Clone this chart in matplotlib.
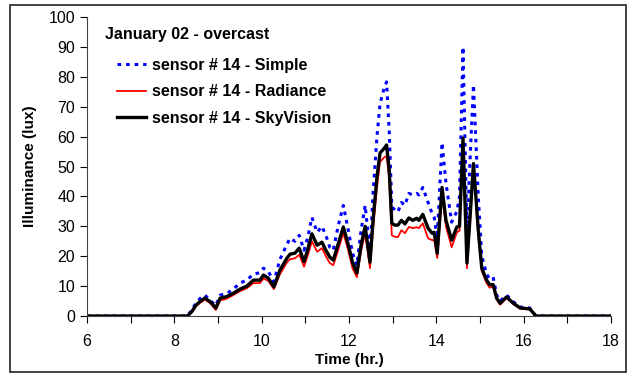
import numpy as np
import matplotlib.pyplot as plt
from matplotlib.patches import Rectangle

plt.rcParams['font.family'] = ['Liberation Sans', 'DejaVu Sans']

# hours of the day
time_hr = [6.0, 8.3, 8.4, 8.5, 8.6, 8.7, 8.82, 8.95, 9.05, 9.2, 9.35, 9.5, 9.66, 9.81,
           9.96, 10.04, 10.15, 10.28, 10.42, 10.58, 10.65, 10.76, 10.86, 10.97, 11.05,
           11.15, 11.27, 11.38, 11.47, 11.56, 11.64, 11.75, 11.87, 11.98, 12.08, 12.18,
           12.28, 12.37, 12.48, 12.55, 12.64, 12.71, 12.8, 12.86, 12.92, 12.98, 13.05,
           13.12, 13.2, 13.28, 13.37, 13.46, 13.55, 13.6, 13.69, 13.81, 13.9, 13.95,
           14.02, 14.13, 14.22, 14.35, 14.47, 14.53, 14.61, 14.7, 14.78, 14.85, 14.96,
           15.04, 15.15, 15.22, 15.3, 15.38, 15.46, 15.61, 15.76, 15.92, 16.14, 16.28, 18.0]

skyvision = [0, 0, 1.5, 3.7, 5, 6, 4.8, 2.7, 6, 6.5, 7.6, 9, 10, 12,
             12, 13.7, 12.7, 9.8, 15.4, 19.4, 20.7, 21, 22.7, 18.2, 22,
             27.5, 23.7, 24.7, 22, 19.7, 18.7, 24, 29.8, 24, 18, 14.4,
             24, 30, 18, 32, 46.5, 54.5, 56, 57.2, 49, 31, 30.4,
             30.4, 32, 30.8, 32.8, 32, 32.7, 32, 34, 29.4, 27.7, 28,
             21, 43, 32, 25.4, 29.8, 30, 59.5, 17.7, 35, 51, 28.7,
             16, 12, 10.5, 10.5, 6, 4.3, 6.4, 4.3, 2.7, 2.4, 0, 0]

simple = [0, 0, 2, 4.5, 6, 7, 5.2, 3.5, 7, 7.5, 9, 11, 12, 14,
          14.5, 16, 15, 11.5, 19, 24, 26, 25, 27, 22, 26,
          33, 28, 30, 27, 23, 22, 30, 37, 29, 21, 17,
          29, 37, 21, 41, 60, 71, 76, 78.3, 62, 36.5, 35.5,
          34.8, 38, 37, 41, 40.5, 41, 40.5, 43, 38, 34.4, 33,
          26, 58, 44.5, 31.4, 35, 40, 90, 28, 55, 77.3, 40,
          20, 14, 12.5, 13, 7, 5, 7, 4.8, 3, 2.7, 0, 0]

radiance = [0, 0, 1.2, 3.3, 4.5, 5.5, 4.3, 2, 5.2, 5.8, 7, 8.3, 9.3, 11,
            11, 12.5, 11.8, 9, 14, 18, 19, 19.3, 20.5, 16.5, 20,
            25, 21.5, 22.7, 20, 17.7, 17, 22, 27.8, 22, 16, 13,
            22, 27.8, 16, 29, 43, 51.5, 53, 53.5, 46, 27, 26.5,
            26.4, 28.7, 27.7, 29.8, 29.4, 29.7, 29.4, 31, 26, 25.4, 25.4,
            19.4, 40.5, 30, 23, 28, 28.5, 58, 16, 33, 50, 27,
            15, 11, 9.5, 9.8, 5.5, 3.8, 6, 4, 2.4, 2.2, 0, 0]

fig = plt.figure(figsize=(6.28, 3.74), dpi=100)
ax = fig.add_axes([0.1385, 0.155, 0.8345, 0.7995])

ax.plot(time_hr, simple, color='#0000ff', linestyle=(0, (1.2, 1.6)), linewidth=2.2,
        label='sensor # 14 - Simple')
ax.plot(time_hr, radiance, color='#ff0000', linewidth=1.3, label='sensor # 14 - Radiance')
ax.plot(time_hr, skyvision, color='black', linewidth=2.4, label='sensor # 14 - SkyVision')

ax.set_xlim(6, 18)
ax.set_ylim(0, 100)
ax.set_xticks(np.arange(6, 19, 2))
ax.set_xticks(np.arange(6, 19, 1), minor=True)
ax.set_yticks(np.arange(0, 101, 10))
ax.tick_params(axis='both', which='both', direction='out', length=5, width=0.8,
               labelsize=11.5, colors='black')
ax.tick_params(axis='x', pad=8)
for s in ['top', 'right']:
    ax.spines[s].set_visible(False)
for s in ['left', 'bottom']:
    ax.spines[s].set_color('#444444')

ax.set_xlabel('Time (hr.)', fontsize=11, fontweight='bold', labelpad=3)
ax.set_ylabel('Illuminance (lux)', fontsize=11, fontweight='bold', labelpad=8)

ax.text(0.035, 0.94, 'January 02 - overcast', transform=ax.transAxes,
        fontsize=11.5, fontweight='bold', va='center', ha='left')
leg = ax.legend(loc='upper left', bbox_to_anchor=(0.057, 0.863), frameon=False,
                fontsize=11.5, handlelength=1.8, handletextpad=0.4,
                labelspacing=0.71, borderaxespad=0, borderpad=0)
for t in leg.get_texts():
    t.set_fontweight('bold')

fig.patches.append(Rectangle((10 / 628, 2 / 374), 616 / 628, 367 / 374,
                             transform=fig.transFigure, fill=False,
                             edgecolor='#222222', linewidth=1.2))

fig.savefig('out.png', dpi=100)
